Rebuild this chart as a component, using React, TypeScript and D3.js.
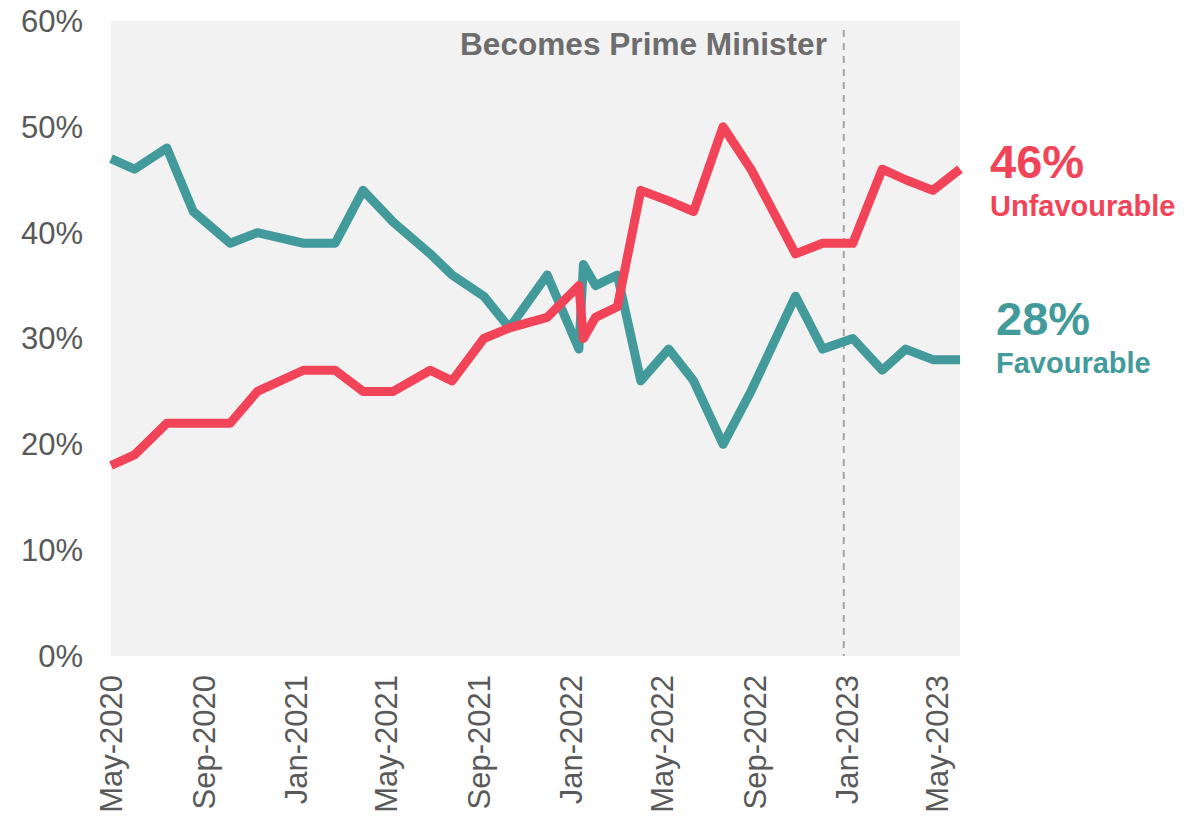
import React from "react";
import * as d3 from "d3";

const dates = [
  "2020-05-01", "2020-06-01", "2020-07-14", "2020-08-18", "2020-10-06", "2020-11-11",
  "2021-01-11", "2021-02-22", "2021-03-31", "2021-05-10", "2021-06-28", "2021-07-27",
  "2021-09-07", "2021-10-11", "2021-11-30", "2022-01-11", "2022-01-17", "2022-02-02",
  "2022-03-03", "2022-04-03", "2022-05-10", "2022-06-12", "2022-07-21", "2022-08-27",
  "2022-10-25", "2022-11-30", "2023-01-09", "2023-02-17", "2023-03-20", "2023-04-25",
  "2023-05-31",
];
const favourable = [
  47, 46, 48, 42, 39, 40, 39, 39, 44, 41, 38, 36, 34, 31, 36, 29, 37, 35, 36, 26, 29, 26,
  20, 25, 34, 29, 30, 27, 29, 28, 28,
];
const unfavourable = [
  18, 19, 22, 22, 22, 25, 27, 27, 25, 25, 27, 26, 30, 31, 32, 35, 30, 32, 33, 44, 43, 42,
  50, 46, 38, 39, 39, 46, 45, 44, 46,
];
const yTicks = [0, 10, 20, 30, 40, 50, 60];
const xTickDates = [
  "2020-05-01", "2020-09-01", "2021-01-01", "2021-05-01", "2021-09-01", "2022-01-01",
  "2022-05-01", "2022-09-01", "2023-01-01", "2023-05-01",
];
const eventDate = "2022-12-28";
const eventLabel = "Becomes Prime Minister";
const seriesNames = ["Unfavourable", "Favourable"];

const RED = "#f24458";
const TEAL = "#429b9a";

export default function App() {
  const parse = d3.utcParse("%Y-%m-%d");
  const fmt = d3.utcFormat("%b-%Y");
  const W = 1201, H = 817;
  const left = 111, right = 960, top = 21, bottom = 656;

  const x = d3
    .scaleUtc()
    .domain([parse(dates[0])!, parse(dates[dates.length - 1])!])
    .range([left, right]);
  const y = d3.scaleLinear().domain([0, 60]).range([bottom, top]);

  const line = d3
    .line<number>()
    .x((_, i) => x(parse(dates[i])!))
    .y((d) => y(d));

  const ex = x(parse(eventDate)!);
  const lastFav = favourable[favourable.length - 1];
  const lastUnf = unfavourable[unfavourable.length - 1];

  return (
    <svg
      width={W}
      height={H}
      style={{ position: "absolute", left: 0, top: 0, background: "#fff" }}
      fontFamily="'Liberation Sans', Arial, sans-serif"
    >
      <rect x={left} y={top} width={right - left} height={bottom - top} fill="#f2f2f2" />
      {yTicks.map((t) => (
        <text
          key={t}
          x={83}
          y={y(t)}
          dy="0.35em"
          textAnchor="end"
          fontSize={31}
          fill="#595959"
        >
          {t}%
        </text>
      ))}
      {xTickDates.map((d) => {
        const px = x(parse(d)!);
        return (
          <text
            key={d}
            transform={`translate(${px},675) rotate(-90)`}
            dy="0.35em"
            textAnchor="end"
            fontSize={31}
            fill="#595959"
          >
            {fmt(parse(d)!)}
          </text>
        );
      })}
      <line
        x1={ex}
        x2={ex}
        y1={30}
        y2={bottom}
        stroke="#a6a6a6"
        strokeWidth={2}
        strokeDasharray="7,6"
      />
      <text x={460} y={55} fontSize={31.6} fontWeight="bold" fill="#6d6d6d">
        {eventLabel}
      </text>
      <path
        d={line(favourable) || ""}
        fill="none"
        stroke={TEAL}
        strokeWidth={9}
        strokeLinejoin="round"
      />
      <path
        d={line(unfavourable) || ""}
        fill="none"
        stroke={RED}
        strokeWidth={9}
        strokeLinejoin="round"
      />
      <text x={990} y={178} fontSize={47} fontWeight="bold" fill={RED}>
        {lastUnf}%
      </text>
      <text x={990} y={216} fontSize={29} fontWeight="bold" fill={RED}>
        {seriesNames[0]}
      </text>
      <text x={996} y={335} fontSize={47} fontWeight="bold" fill={TEAL}>
        {lastFav}%
      </text>
      <text x={996} y={373} fontSize={29} fontWeight="bold" fill={TEAL}>
        {seriesNames[1]}
      </text>
    </svg>
  );
}
